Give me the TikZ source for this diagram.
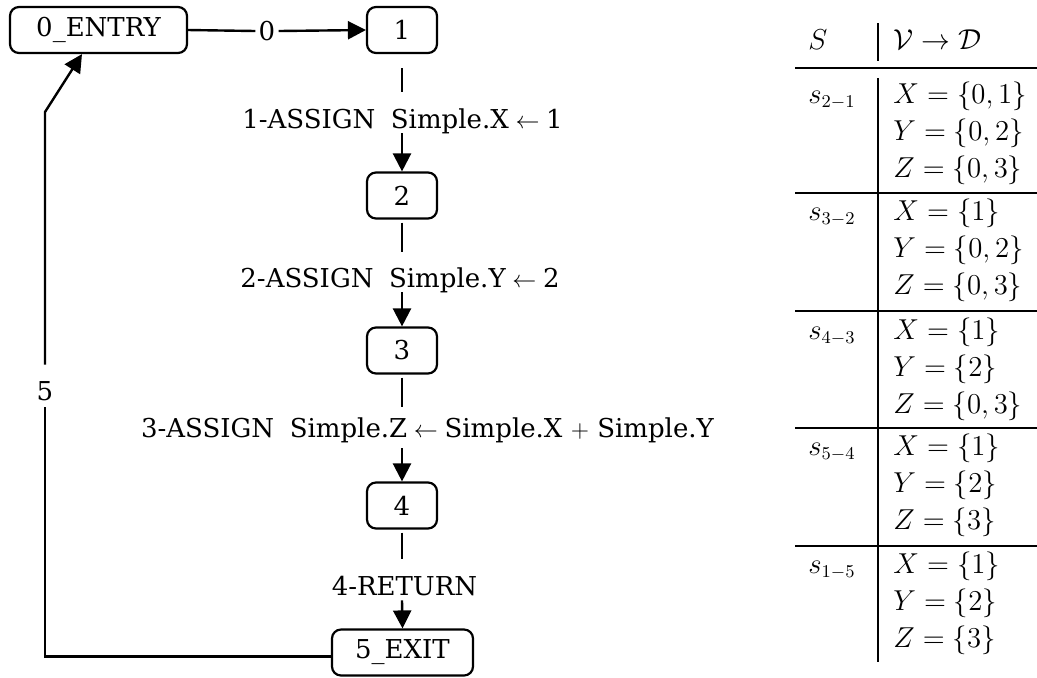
\documentclass[tikz,border=0pt]{standalone}
\usepackage{fontspec}
\setmainfont{DejaVu Serif}
\usetikzlibrary{arrows.meta}
\begin{document}
\begin{tikzpicture}[x=0.5pt,y=-0.5pt,
  font=\fontsize{13}{16}\selectfont,
  box/.style={draw,line width=1.1pt,rounded corners=4.5pt,minimum height=23pt,inner sep=0pt},
  conn/.style={line width=1.2pt},
  arr/.style={conn,-{Triangle[length=9pt,width=9pt]}},
  lbl/.style={inner sep=0pt,anchor=base},
  cell/.style={inner sep=0pt,anchor=base west,font=\fontsize{13.5}{16}\selectfont},
  rulethick/.style={line width=1.1pt},
  rulethin/.style={line width=0.85pt},
  vline/.style={line width=0.85pt}]
\useasboundingbox (0,0) rectangle (1037,677);

% graph nodes
\node[box,minimum width=88.5pt] (n0) at (98.5,30) {0\_ENTRY};
\node[box,minimum width=35pt] (n1) at (402,30) {1};
\node[box,minimum width=35pt] (n2) at (402,195.5) {2};
\node[box,minimum width=35pt] (n3) at (402,350.5) {3};
\node[box,minimum width=35pt] (n4) at (402,505.5) {4};
\node[box,minimum width=70.5pt] (n5) at (402.5,652.5) {5\_EXIT};

% edge labels
\node[inner xsep=1.5pt,inner ysep=0pt] (l0) at (267,31) {0};
\node[lbl,text height=18pt,text depth=2.5pt] (l1) at (402.5,128) {1-ASSIGN\hspace{0.6em}Simple.X${}\leftarrow{}$1};
\node[lbl,text height=17.5pt,text depth=2.5pt] (l2) at (400,287) {2-ASSIGN\hspace{0.6em}Simple.Y${}\leftarrow{}$2};
\node[lbl,text height=15pt,text depth=5.5pt] (l3) at (427.5,437) {3-ASSIGN\hspace{0.6em}Simple.Z${}\leftarrow{}$Simple.X $+$ Simple.Y};
\node[lbl,text height=18pt,text depth=2.5pt] (l4) at (404.5,595) {4-RETURN};
\node[lbl,text height=17.5pt,text depth=3.5pt] (l5) at (45,400) {5};

% edges
\draw[conn] (n0.east) -- (l0.west);
\draw[arr] (l0.east) -- (n1.west);

\draw[conn,shorten <=7pt] (n1.south) -- (n1.south |- l1.north);
\draw[arr] (n1.south |- l1.south) -- (n2.north);

\draw[conn,shorten <=1.5pt] (n2.south) -- (n2.south |- l2.north);
\draw[arr] (n2.south |- l2.south) -- (n3.north);

\draw[conn,shorten <=1.5pt] (n3.south) -- (n3.south |- l3.north);
\draw[arr] (n3.south |- l3.south) -- (n4.north);

\draw[conn,shorten <=1.5pt] (n4.south) -- (n4.south |- l4.north);
\draw[arr] (n4.south |- l4.south) -- (n5.north);

\coordinate (c5) at (45,112);
\draw[conn] ([yshift=-2pt]n5.west) -- ([yshift=-2pt]n5.west -| l5.south) -- (l5.south);
\draw[arr] (l5.north) -- (c5) -- ([xshift=-8.25pt]n0.south);

% table
\node[cell] (hS) at (808,49) {$S$};
\node[cell] (hV) at (893,49) {$\mathcal{V}\rightarrow\mathcal{D}$};
\draw[vline] (878,23) -- (878,61);
\draw[vline] (878,78) -- (878,662);
\draw[rulethick] (795,68) -- (1037,68);
\draw[rulethin] (795,193) -- (1037,193);
\draw[rulethin] (795,311) -- (1037,311);
\draw[rulethin] (795,428) -- (1037,428);
\draw[rulethin] (795,546) -- (1037,546);

\node[cell] (s1) at (808,103) {$s_{2-1}$};
\node[cell] (x1) at (893,103) {$X=\{0,1\}$};
\node[cell] (y1) at (893,140) {$Y=\{0,2\}$};
\node[cell] (z1) at (893,177) {$Z=\{0,3\}$};

\node[cell] (s2) at (808,220) {$s_{3-2}$};
\node[cell] (x2) at (893,220) {$X=\{1\}$};
\node[cell] (y2) at (893,257) {$Y=\{0,2\}$};
\node[cell] (z2) at (893,294) {$Z=\{0,3\}$};

\node[cell] (s3) at (808,339) {$s_{4-3}$};
\node[cell] (x3) at (893,339) {$X=\{1\}$};
\node[cell] (y3) at (893,376) {$Y=\{2\}$};
\node[cell] (z3) at (893,413) {$Z=\{0,3\}$};

\node[cell] (s4) at (808,455) {$s_{5-4}$};
\node[cell] (x4) at (893,455) {$X=\{1\}$};
\node[cell] (y4) at (893,492) {$Y=\{2\}$};
\node[cell] (z4) at (893,529) {$Z=\{3\}$};

\node[cell] (s5) at (808,573) {$s_{1-5}$};
\node[cell] (x5) at (893,573) {$X=\{1\}$};
\node[cell] (y5) at (893,610) {$Y=\{2\}$};
\node[cell] (z5) at (893,647) {$Z=\{3\}$};
\end{tikzpicture}
\end{document}
